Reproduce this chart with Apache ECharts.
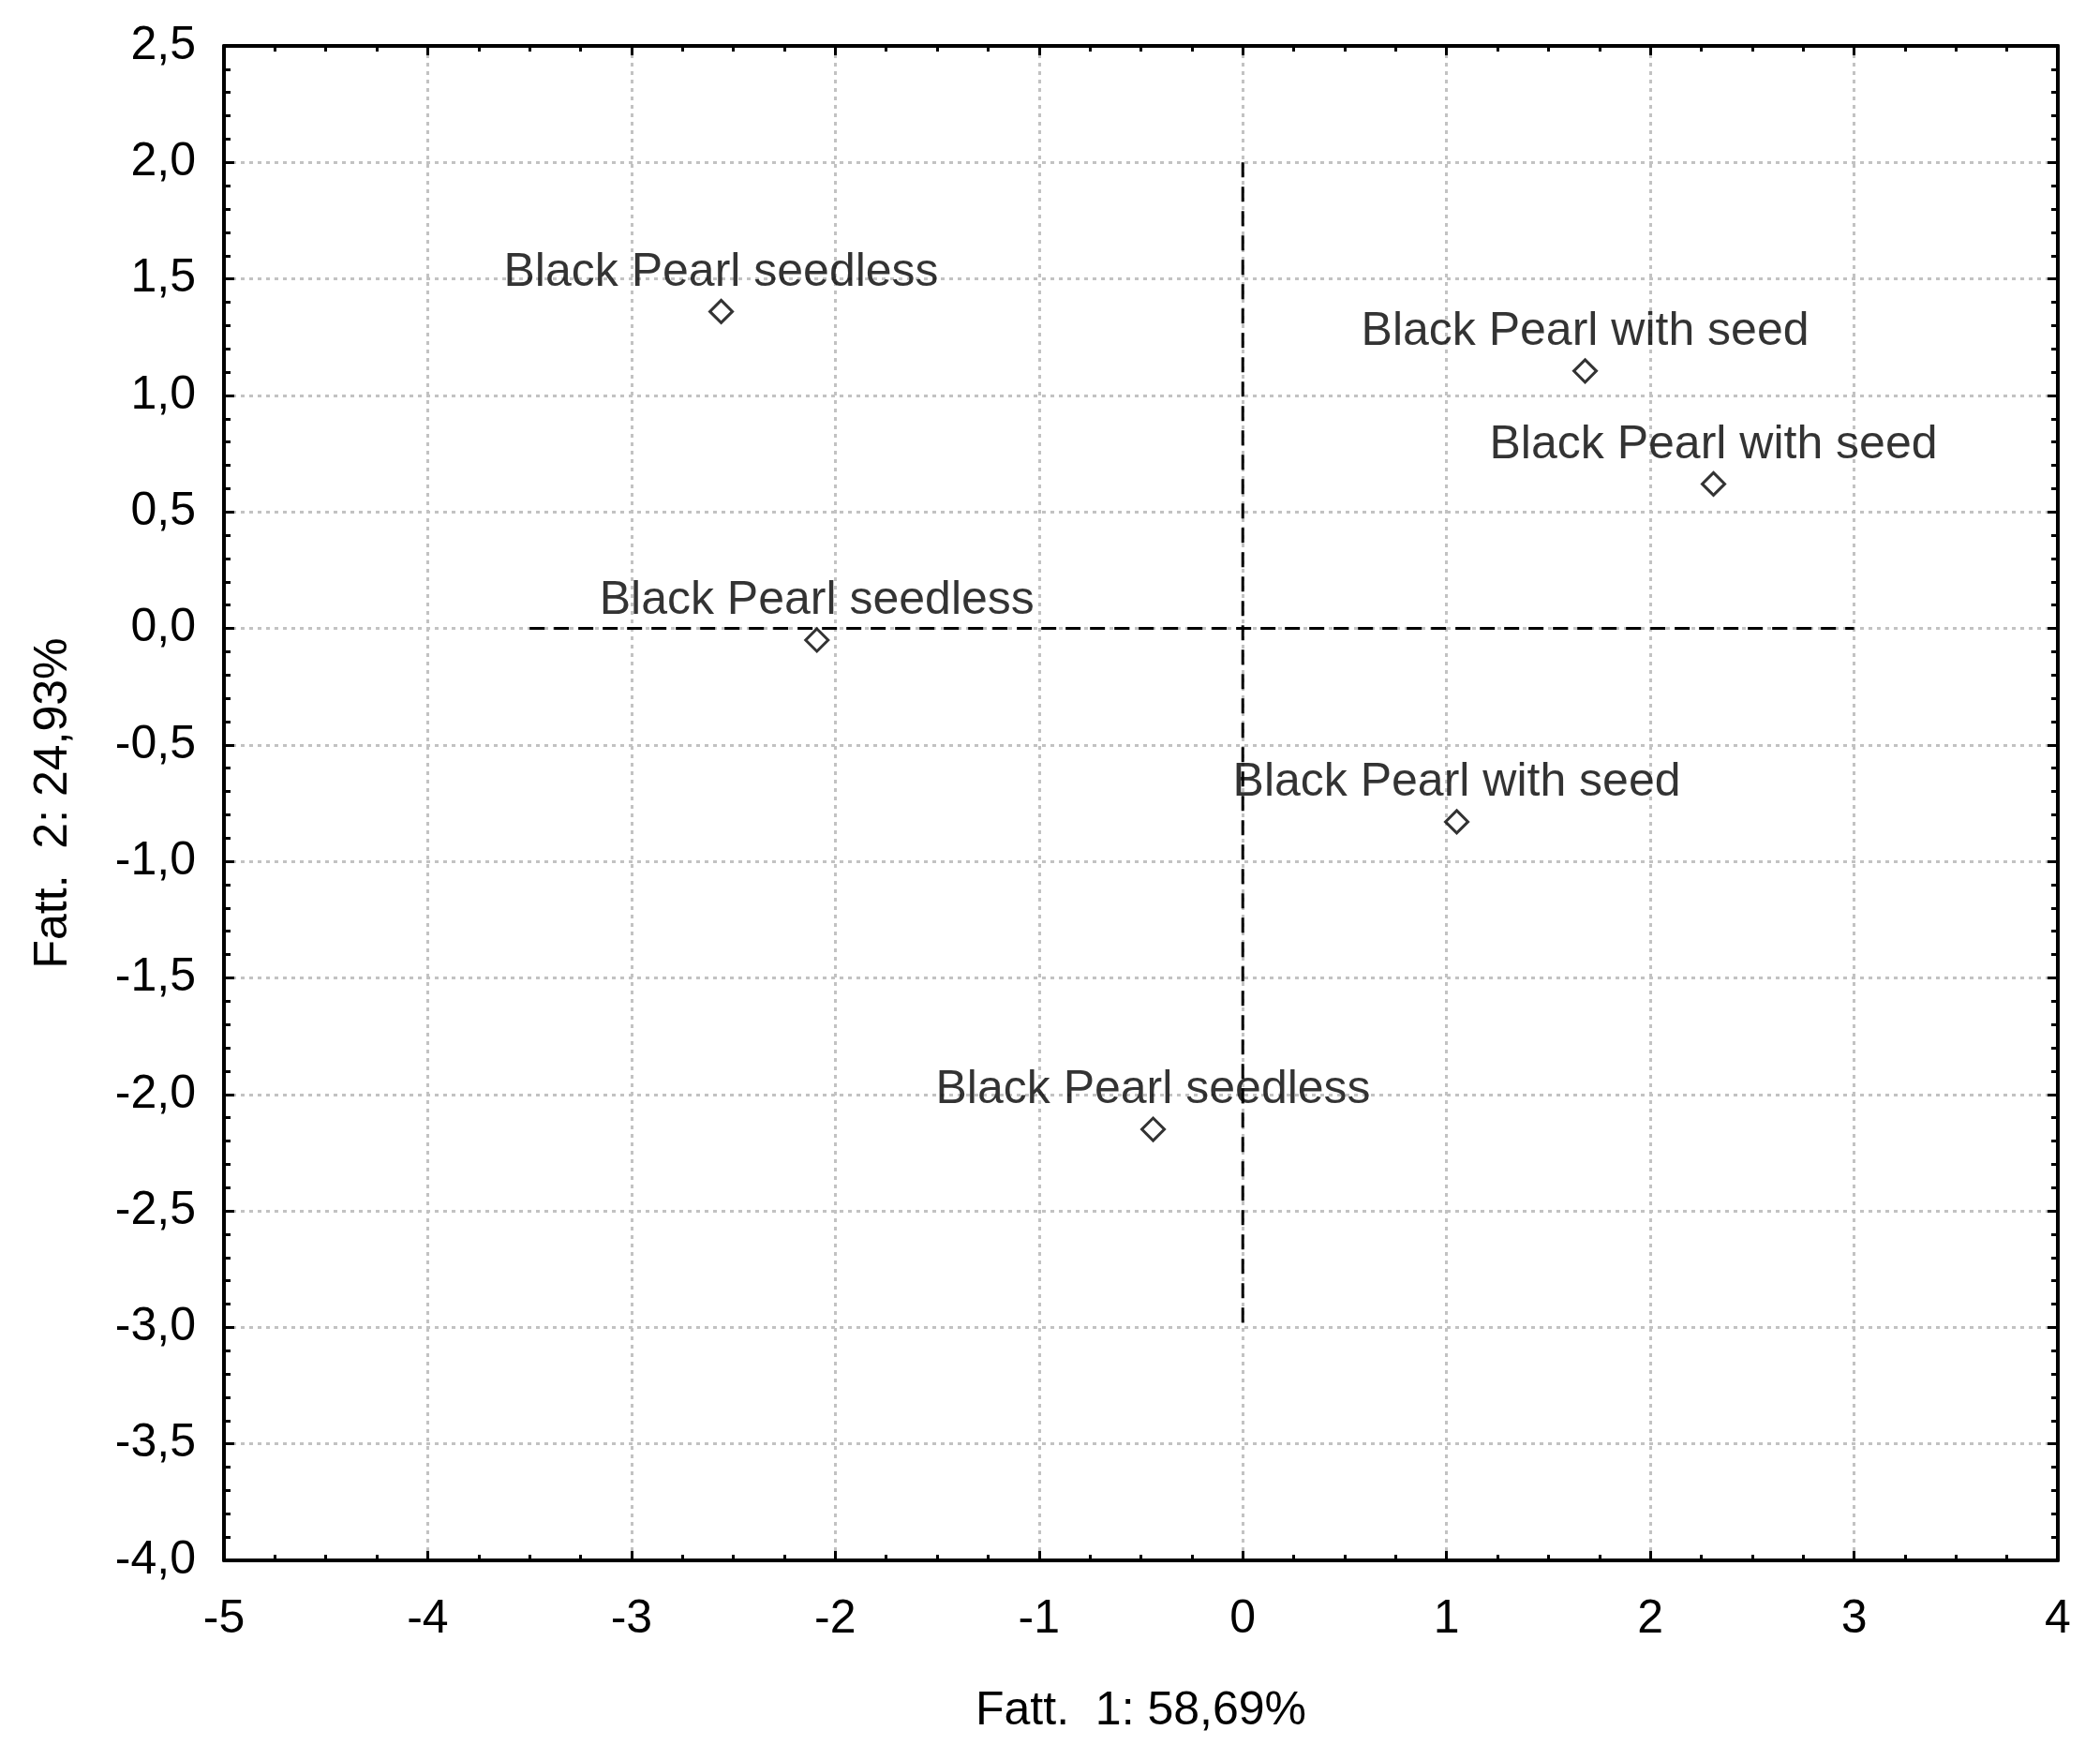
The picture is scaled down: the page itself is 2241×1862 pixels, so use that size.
<!DOCTYPE html>
<html>
<head>
<meta charset="utf-8">
<script src="https://cdn.jsdelivr.net/npm/echarts@6/dist/echarts.min.js"></script>
<style>
html,body{margin:0;padding:0;background:#fff;}
#chart{width:2241px;height:1862px;}
</style>
</head>
<body>
<div id="chart"></div>
<script>
// ---- data ----
var pointNames = ['Black Pearl seedless','Black Pearl with seed','Black Pearl with seed','Black Pearl seedless','Black Pearl with seed','Black Pearl seedless'];
var factor1 = [-2.56, 1.68, 2.31, -2.09, 1.05, -0.44];
var factor2 = [1.36, 1.105, 0.62, -0.05, -0.83, -2.15];
var refLineH = [[-3.5, 0], [3.0, 0]];
var refLineV = [[0, 2.0], [0, -3.0]];
var xAxisTitle = 'Fatt.  1: 58,69%';
var yAxisTitle = 'Fatt.  2: 24,93%';
var xRange = [-5, 4];
var yRange = [-4.0, 2.5];

var FONT = 'Liberation Sans, Arial, sans-serif';
var points = pointNames.map(function (n, i) { return { name: n, value: [factor1[i], factor2[i]] }; });

var gridLine = { show: true, lineStyle: { color: '#c2c2c2', width: 3, type: [4, 5] } };
var frameLine = { show: true, onZero: false, lineStyle: { color: '#000', width: 4 } };

function baseX(pos, showLabels) {
  return {
    type: 'value', position: pos, min: xRange[0], max: xRange[1], interval: 1,
    axisLine: frameLine,
    axisTick: { show: true, inside: true, length: 10, lineStyle: { color: '#000', width: 3 } },
    minorTick: { show: true, splitNumber: 4, length: 6, lineStyle: { color: '#000', width: 3 } },
    splitLine: showLabels ? gridLine : { show: false },
    axisLabel: showLabels ? { show: true, fontSize: 50, fontFamily: FONT, color: '#000', margin: 38,
      showMinLabel: true, showMaxLabel: true,
      formatter: function (v) { return String(v); } } : { show: false }
  };
}
function baseY(pos, showLabels) {
  return {
    type: 'value', position: pos, min: yRange[0], max: yRange[1], interval: 0.5,
    axisLine: frameLine,
    axisTick: { show: true, inside: true, length: 11, lineStyle: { color: '#000', width: 3 } },
    minorTick: { show: true, splitNumber: 5, length: 7, lineStyle: { color: '#000', width: 3 } },
    splitLine: showLabels ? gridLine : { show: false },
    axisLabel: showLabels ? { show: true, fontSize: 50, fontFamily: FONT, color: '#000', margin: 30,
      showMinLabel: true, showMaxLabel: true,
      formatter: function (v) { return v.toFixed(1).replace('.', ','); } } : { show: false }
  };
}

var xa0 = baseX('bottom', true);
xa0.name = xAxisTitle; xa0.nameLocation = 'middle'; xa0.nameGap = 136;
xa0.nameTextStyle = { fontSize: 50, fontFamily: FONT, color: '#000' };
var ya0 = baseY('left', true);
ya0.name = yAxisTitle; ya0.nameLocation = 'middle'; ya0.nameGap = 157;
ya0.nameTextStyle = { fontSize: 50, fontFamily: FONT, color: '#000' };

var chart = echarts.init(document.getElementById('chart'), null, { renderer: 'canvas' });
chart.setOption({
  backgroundColor: '#fff',
  animation: false,
  grid: { left: 239, right: 45, top: 49, bottom: 197, containLabel: false },
  xAxis: [xa0, baseX('top', false)],
  yAxis: [ya0, baseY('right', false)],
  series: [
    { type: 'line', data: refLineH, symbol: 'none', silent: true,
      lineStyle: { color: '#000', width: 3, type: [16, 10] }, z: 3 },
    { type: 'line', data: refLineV, symbol: 'none', silent: true,
      lineStyle: { color: '#000', width: 3, type: [16, 10] }, z: 3 },
    { type: 'scatter', data: points, symbol: 'diamond', symbolSize: 24,
      itemStyle: { color: '#fff', borderColor: '#000', borderWidth: 3 },
      label: { show: true, position: 'top', distance: 3, formatter: '{b}',
        fontSize: 50, fontFamily: FONT, color: '#000' }, z: 5 }
  ]
});
</script>
</body>
</html>
